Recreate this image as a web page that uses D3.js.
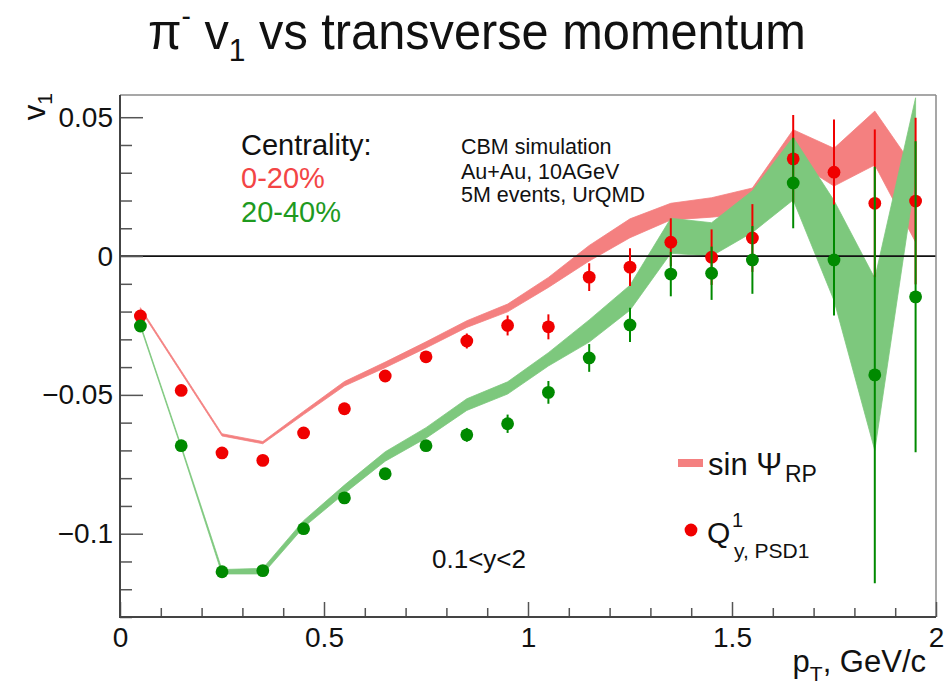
<!DOCTYPE html>
<html><head><meta charset="utf-8">
<script src="https://cdn.jsdelivr.net/npm/d3@7"></script>
<style>
body{margin:0;background:#fff;}
text{font-family:"Liberation Sans",Arial,Helvetica,sans-serif;}
</style></head>
<body><svg id="c" width="949" height="687"></svg>
<script>
// ---- data ----
const pt = [0.05,0.15,0.25,0.35,0.45,0.55,0.65,0.75,0.85,0.95,1.05,1.15,1.25,1.35,1.45,1.55,1.65,1.75,1.85,1.95];
// Q^1_{y,PSD1} points, centrality 0-20%
const redQ    = [-0.0216,-0.0484,-0.0709,-0.0736,-0.0637,-0.0550,-0.0432,-0.0363,-0.0306,-0.0250,-0.0255,-0.0076,-0.0040,0.0050,-0.0004,0.0065,0.0350,0.0302,0.0190,0.0198];
const redQErr = [0.0010,0.0010,0.0010,0.0010,0.0012,0.0014,0.0016,0.0019,0.0027,0.0036,0.0045,0.0050,0.0068,0.0086,0.0100,0.0122,0.0158,0.0190,0.0266,0.0300];
// Q^1_{y,PSD1} points, centrality 20-40%
const greenQ    = [-0.0252,-0.0683,-0.1137,-0.1133,-0.0982,-0.0871,-0.0784,-0.0683,-0.0644,-0.0604,-0.0491,-0.0367,-0.0248,-0.0065,-0.0062,-0.0014,0.0263,-0.0014,-0.0428,-0.0147];
const greenQErr = [0.0010,0.0010,0.0010,0.0010,0.0012,0.0014,0.0016,0.0019,0.0025,0.0033,0.0041,0.0050,0.0062,0.0080,0.0096,0.0122,0.0163,0.0200,0.0750,0.0560];
// sin Psi_RP bands (centre, half width)
const redBand     = [-0.0190,-0.0417,-0.0644,-0.0672,-0.0565,-0.0460,-0.0392,-0.0320,-0.0245,-0.0187,-0.0095,0.0010,0.0100,0.0160,0.0175,0.0200,0.0400,0.0320,0.0425,0.0180];
const redBandHW   = [0.0004,0.0004,0.0004,0.0004,0.0006,0.0008,0.0010,0.0011,0.0012,0.0014,0.0018,0.0028,0.0034,0.0030,0.0035,0.0045,0.0055,0.0068,0.0097,0.0130];
const greenBand   = [-0.0250,-0.0687,-0.1137,-0.1135,-0.0965,-0.0840,-0.0722,-0.0637,-0.0535,-0.0475,-0.0372,-0.0270,-0.0150,0.0073,0.0060,0.0160,0.0315,0.0020,-0.0390,0.0430];
const greenBandHW = [0.0004,0.0004,0.0008,0.0010,0.0012,0.0015,0.0017,0.0019,0.0021,0.0022,0.0024,0.0040,0.0045,0.0063,0.0060,0.0075,0.0113,0.0180,0.0310,0.0140];
const xTicks = [0,0.5,1,1.5,2];
const xTickLabels = ["0","0.5","1","1.5","2"];
const yTicks = [0.05,0,-0.05,-0.1];
const yTickLabels = ["0.05","0","\u22120.05","\u22120.1"];

// ---- setup ----
const svg = d3.select("#c");
const x = d3.scaleLinear().domain([0,2]).range([120,936]);
const y = d3.scaleLinear().domain([-0.13,0.058]).range([617,95]);
const C = {redBand:"#f48080", greenBand:"#7dc87d", red:"#f00000", green:"#008a00"};

// title
const tg = svg.append("g");
const tt = tg.append("text").attr("font-size",52).attr("fill","#111");
tt.append("tspan").text("\u03c0");
tt.append("tspan").attr("font-size",30).attr("dy",-23).text("-");
tt.append("tspan").attr("dy",23).text(" v");
tt.append("tspan").attr("font-size",32).attr("dy",12).text("1");
tt.append("tspan").attr("dy",-12).text(" vs transverse momentum");
const tw = tt.node().getBBox().width;
tg.attr("transform",`translate(148,49) scale(${658/tw},1)`);

// bands
const area = (c,hw) => d3.area().x((d,i)=>x(pt[i])).y0((d,i)=>y(c[i]-hw[i])).y1((d,i)=>y(c[i]+hw[i]));
svg.append("path").datum(pt).attr("d",area(redBand,redBandHW)).attr("fill",C.redBand).attr("stroke",C.redBand).attr("stroke-width",0.8);
svg.append("path").datum(pt).attr("d",area(greenBand,greenBandHW)).attr("fill",C.greenBand).attr("stroke",C.greenBand).attr("stroke-width",0.8);

// zero line
svg.append("line").attr("x1",x(0)).attr("x2",x(2)).attr("y1",y(0)).attr("y2",y(0)).attr("stroke","#111").attr("stroke-width",1.8);

// points
function pts(vals, errs, col){
  const g = svg.append("g");
  g.selectAll("line").data(pt).join("line")
    .attr("x1",d=>x(d)).attr("x2",d=>x(d))
    .attr("y1",(d,i)=>y(vals[i]-errs[i])).attr("y2",(d,i)=>y(vals[i]+errs[i]))
    .attr("stroke",col).attr("stroke-width",2);
  g.selectAll("circle").data(pt).join("circle")
    .attr("cx",d=>x(d)).attr("cy",(d,i)=>y(vals[i])).attr("r",6.4).attr("fill",col);
}
pts(redQ,redQErr,C.red);
pts(greenQ,greenQErr,C.green);

// frame
svg.append("line").attr("x1",120).attr("x2",936).attr("y1",95).attr("y2",95).attr("stroke","#8a8a8a").attr("stroke-width",1.5);
svg.append("line").attr("x1",936).attr("x2",936).attr("y1",95).attr("y2",617).attr("stroke","#8a8a8a").attr("stroke-width",1.5);

// axes
svg.append("g").attr("transform","translate(120,0)")
  .call(d3.axisLeft(y).tickValues(yTicks).tickSize(-23).tickPadding(7).tickFormat((d,i)=>yTickLabels[i]));
const yMinor = d3.range(-13,6).map(v=>v/100).filter(v=>!yTicks.some(t=>Math.abs(t-v)<1e-9));
svg.append("g").attr("transform","translate(120,0)")
  .call(d3.axisLeft(y).tickValues(yMinor).tickSize(-12).tickFormat(""));
svg.append("g").attr("transform","translate(0,617)")
  .call(d3.axisBottom(x).tickValues(xTicks).tickSize(-15).tickPadding(10).tickFormat((d,i)=>xTickLabels[i]));
const xMinor = d3.range(1,20).map(v=>v/10).filter(v=>!xTicks.some(t=>Math.abs(t-v)<1e-9));
svg.append("g").attr("transform","translate(0,617)")
  .call(d3.axisBottom(x).tickValues(xMinor).tickSize(-9).tickFormat(""));
svg.selectAll(".domain").remove();
svg.selectAll(".tick line").attr("stroke","#555").attr("stroke-width",1.5);
svg.selectAll(".tick text").attr("font-size",28).attr("fill","#111").attr("font-family","Liberation Sans, Arial, sans-serif");
svg.append("line").attr("x1",120).attr("x2",120).attr("y1",95).attr("y2",617).attr("stroke","#444").attr("stroke-width",2);
svg.append("line").attr("x1",119).attr("x2",936).attr("y1",617).attr("y2",617).attr("stroke","#444").attr("stroke-width",2);

// axis titles
const xt = svg.append("text").attr("x",926).attr("y",672).attr("text-anchor","end").attr("font-size",31).attr("fill","#111");
xt.append("tspan").text("p");
xt.append("tspan").attr("font-size",21).attr("dy",9).text("T");
xt.append("tspan").attr("dy",-9).text(", GeV/c");
const yt = svg.append("text").attr("transform","translate(45,93) rotate(-90)").attr("text-anchor","end").attr("font-size",31).attr("fill","#111");
yt.append("tspan").text("v");
yt.append("tspan").attr("font-size",21).attr("dy",7).text("1");

// annotations
svg.append("text").attr("x",241).attr("y",155).attr("font-size",29).attr("fill","#111").text("Centrality:");
svg.append("text").attr("x",241).attr("y",188).attr("font-size",29).attr("fill","#f34545").text("0-20%");
svg.append("text").attr("x",241).attr("y",222).attr("font-size",29).attr("fill","#1f9a1f").text("20-40%");
const info = ["CBM simulation","Au+Au, 10AGeV","5M events, UrQMD"];
const infoY = [154,179,202];
info.forEach((t,i)=>svg.append("text").attr("x",461).attr("y",infoY[i]).attr("font-size",21.5).attr("fill","#111").text(t));
svg.append("text").attr("x",432).attr("y",568).attr("font-size",26).attr("fill","#111").text("0.1<y<2");

// legend
svg.append("line").attr("x1",678).attr("x2",703).attr("y1",463).attr("y2",463).attr("stroke",C.redBand).attr("stroke-width",8);
svg.append("text").attr("x",708).attr("y",475).attr("font-size",31).attr("fill","#111").text("sin \u03a8");
svg.append("text").attr("x",785).attr("y",482).attr("font-size",23).attr("fill","#111").text("RP");
svg.append("circle").attr("cx",691).attr("cy",530).attr("r",6.4).attr("fill",C.red);
svg.append("text").attr("x",707).attr("y",543).attr("font-size",30).attr("fill","#111").text("Q");
svg.append("text").attr("x",732).attr("y",527).attr("font-size",20).attr("fill","#111").text("1");
svg.append("text").attr("x",734).attr("y",558).attr("font-size",21).attr("fill","#111").text("y, PSD1");
</script></body></html>
